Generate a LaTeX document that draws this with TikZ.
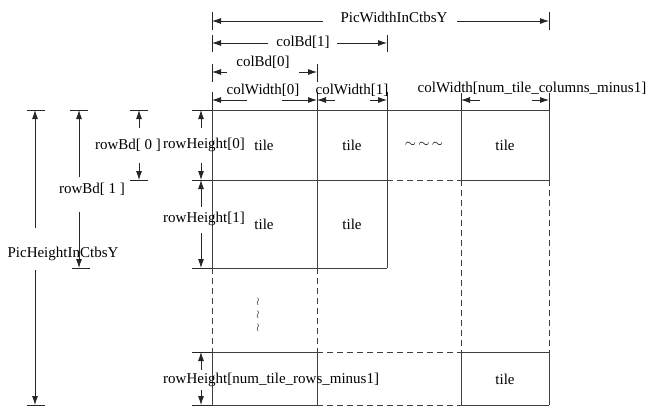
\documentclass[tikz,border=0pt]{standalone}
\usepackage{fontspec}
\setmainfont{Liberation Serif}
\usetikzlibrary{arrows.meta}
\begin{document}
\begin{tikzpicture}[x=1pt,y=-1pt,
  grid/.style={draw=black!75,line width=1pt},
  gdash/.style={draw=black!75,line width=1pt,dash pattern=on 6pt off 4pt},
  dim/.style={draw=black!85,line width=0.8pt,-{Latex[length=9pt,width=6pt]}},
  tick/.style={draw=black!85,line width=0.8pt},
  lbl/.style={font=\fontsize{15}{18}\selectfont,inner sep=0pt}]
\useasboundingbox (0,0) rectangle (650,413);
% grid
\draw[grid] (212,110) -- (549,110);
\draw[grid] (212,180) -- (387,180) (461,180) -- (549,180);
\draw[gdash] (387,180) -- (461,180);
\draw[grid] (212,268) -- (387,268);
\draw[grid] (212,352) -- (317,352) (461,352) -- (549,352);
\draw[gdash] (317,352) -- (461,352);
\draw[grid] (212,405) -- (317,405) (461,405) -- (549,405);
\draw[gdash] (317,405) -- (461,405);
\draw[grid] (212,110) -- (212,268) (317,110) -- (317,268) (387,110) -- (387,268)
  (461,110) -- (461,180) (549,110) -- (549,180);
\draw[gdash] (212,268) -- (212,352) (317,268) -- (317,352) (461,180) -- (461,352) (549,180) -- (549,352);
\draw[grid] (212,352) -- (212,405) (317,352) -- (317,405) (461,352) -- (461,405) (549,352) -- (549,405);
% top ticks
\draw[tick] (212,12) -- (212,30) (549,12) -- (549,30)
  (212,35) -- (212,52) (387,35) -- (387,52)
  (212,64) -- (212,82) (317,64) -- (317,82)
  (212,92) -- (212,110) (317,92) -- (317,110) (387,92) -- (387,110)
  (461,93) -- (461,110) (549,93) -- (549,110);
% left ticks
\draw[tick] (27,110) -- (45,110) (27,405) -- (45,405)
  (70,110) -- (88,110) (72,268) -- (90,268)
  (130,110) -- (148,110) (130,180) -- (148,180)
  (192,110) -- (212,110) (192,180) -- (212,180) (192,268) -- (212,268)
  (192,352) -- (212,352) (192,405) -- (212,405);
% horizontal dimensions
\draw[dim] (323,21) -- (212,21);
\draw[dim] (457,21) -- (549,21);
\node[lbl] (pw) at (394,17) {PicWidthInCtbsY};
\draw[dim] (268,43) -- (212,43);
\draw[dim] (337,43) -- (387,43);
\node[lbl] (cb1) at (303,42) {colBd[1]};
\draw[dim] (227,72) -- (212,72);
\draw[dim] (299,72) -- (317,72);
\node[lbl] (cb0) at (263,62) {colBd[0]};
\draw[dim] (247,100) -- (212,100);
\draw[dim] (282,100) -- (317,100);
\node[lbl] (cw0) at (263,90) {colWidth[0]};
\draw[dim] (335,100) -- (317,100);
\draw[dim] (370,100) -- (387,100);
\node[lbl] (cw1) at (352,90) {colWidth[1]};
\draw[dim] (480,100) -- (461,100);
\draw[dim] (532,100) -- (549,100);
\node[lbl] (cwn) at (532,88) {colWidth[num\_tile\_columns\_minus1]};
% vertical dimensions
\draw[dim] (35,228) -- (35,110);
\draw[dim] (35,270) -- (35,405);
\node[lbl] (ph) at (63,254) {PicHeightInCtbsY};
\draw[dim] (79,177) -- (79,110);
\draw[dim] (79,212) -- (79,268);
\node[lbl] (rb1) at (92,189) {rowBd[ 1 ]};
\draw[dim] (139,128) -- (139,110);
\draw[dim] (139,163) -- (139,180);
\node[lbl] (rb0) at (128,145) {rowBd[ 0 ]};
\draw[dim] (201,128) -- (201,110);
\draw[dim] (201,163) -- (201,180);
\node[lbl,anchor=west] (rh0) at (163,145) {rowHeight[0]};
\draw[dim] (201,207) -- (201,180);
\draw[dim] (201,233) -- (201,268);
\node[lbl,anchor=west] (rh1) at (163,219) {rowHeight[1]};
\draw[dim] (201,370) -- (201,352);
\draw[dim] (201,390) -- (201,405);
\node[lbl,anchor=west] (rhn) at (163,380) {rowHeight[num\_tile\_rows\_minus1]};
% tiles
\node[lbl] (t00) at (264,145) {tile};
\node[lbl] (t01) at (352,145) {tile};
\node[lbl] (dots) at (424,145) {$\sim\,\sim\,\sim$};
\node[lbl] (t0n) at (505,145) {tile};
\node[lbl] (t10) at (264,224) {tile};
\node[lbl] (t11) at (352,224) {tile};
\node[lbl] (tnn) at (505,379) {tile};
\node[lbl,font=\fontsize{11}{12}\selectfont] (w1) at (258,302) {$\wr$};
\node[lbl,font=\fontsize{11}{12}\selectfont] (w2) at (258,315) {$\wr$};
\node[lbl,font=\fontsize{11}{12}\selectfont] (w3) at (258,328) {$\wr$};
\end{tikzpicture}
\end{document}
